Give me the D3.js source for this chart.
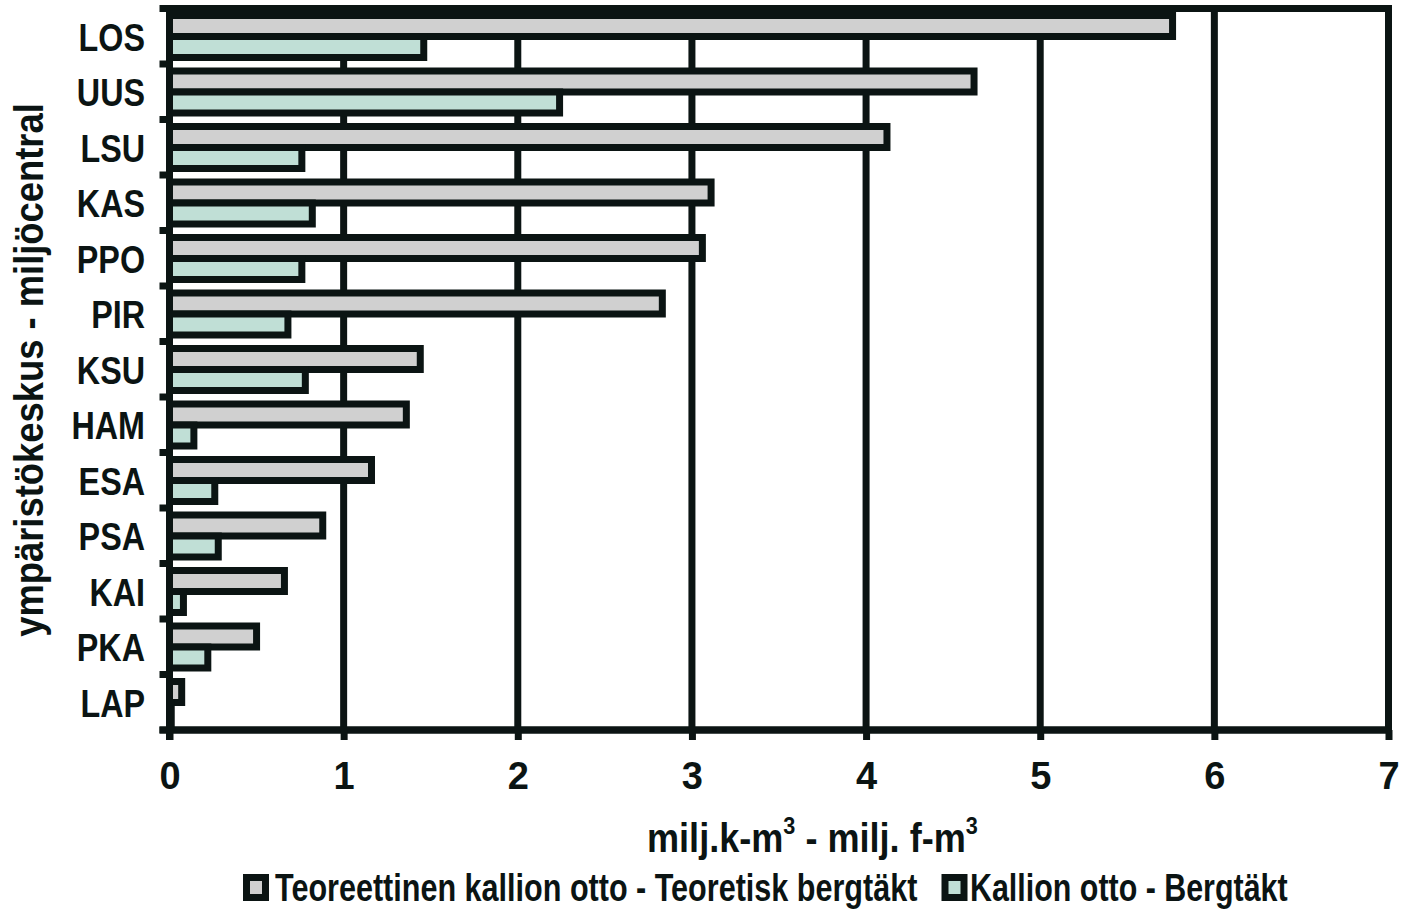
<!DOCTYPE html>
<html><head><meta charset="utf-8">
<script src="https://cdn.jsdelivr.net/npm/d3@7"></script>
<style>html,body{margin:0;padding:0;background:#fff;}svg{display:block;}text{font-family:"Liberation Sans",Arial,sans-serif;font-weight:bold;fill:#0b1413;}</style>
</head><body>
<svg id="c" width="1410" height="909"></svg>
<script>
const categories = ["LOS","UUS","LSU","KAS","PPO","PIR","KSU","HAM","ESA","PSA","KAI","PKA","LAP"];
const theoretical = [5.76,4.62,4.12,3.11,3.06,2.83,1.44,1.36,1.16,0.88,0.66,0.50,0.07];
const actual = [1.46,2.24,0.76,0.82,0.76,0.68,0.78,0.14,0.26,0.28,0.08,0.22,0.01];
const seriesNames = ["Teoreettinen kallion otto - Teoretisk bergtäkt","Kallion otto - Bergtäkt"];
const xTicks = [0,1,2,3,4,5,6,7];
const xTitle = ["milj.k-m","3"," - milj. f-m","3"];
const yTitle = "ympäristökeskus - miljöcentral";

const INK = "#0b1413";
const colors = ["#d0d0d0","#c0dfd6"];
const svg = d3.select("#c");
const L = 169.5, R = 1388.5, T = 8.5, B = 730;

const x = d3.scaleLinear().domain([0,7]).range([L,R]);
const y = d3.scaleBand().domain(categories).range([T,B]);
const ys = d3.scaleBand().domain([0,1]).range([7,49]);

// fit a text horizontally to a target width using a scale transform
function fit(sel, tx, ty, w, rot) {
  const n = sel.node();
  const nat = n.getBBox().width;
  const s = w / nat;
  sel.attr("transform", rot ? `translate(${tx},${ty}) rotate(-90) scale(${s},1)` : `translate(${tx},${ty}) scale(${s},1)`);
}

// gridlines
svg.append("g").selectAll("line").data(xTicks.slice(1,-1)).join("line")
  .attr("x1",d=>x(d)).attr("x2",d=>x(d)).attr("y1",T).attr("y2",B)
  .attr("stroke",INK).attr("stroke-width",7);

// frame
svg.append("rect").attr("x",L).attr("y",T).attr("width",R-L).attr("height",B-T)
  .attr("fill","none").attr("stroke",INK).attr("stroke-width",7);

// bars
const data = [];
categories.forEach((c,i)=>{
  data.push({c, s:0, v:theoretical[i]});
  data.push({c, s:1, v:actual[i]});
});
svg.append("g").selectAll("rect").data(data).join("rect")
  .attr("x",x(0)).attr("y",d=>y(d.c)+ys(d.s))
  .attr("width",d=>x(d.v)-x(0)).attr("height",ys.bandwidth())
  .attr("fill",d=>colors[d.s]).attr("stroke",INK).attr("stroke-width",7);

// axes
const xAxis = d3.axisBottom(x).tickValues(xTicks).tickSize(10).tickPadding(22).tickFormat(d3.format("d"));
const gx = svg.append("g").attr("transform",`translate(0,${B})`).call(xAxis);
gx.select(".domain").attr("stroke",INK).attr("stroke-width",7).attr("d",`M${L-10},0H${R}`);
gx.selectAll(".tick line").attr("stroke",INK).attr("stroke-width",7);
gx.selectAll(".tick text").attr("font-size",38).attr("fill",INK).attr("dy","0.71em")
  .attr("font-family","'Liberation Sans',Arial,sans-serif").attr("font-weight","bold");

const yTickPos = categories.map(c=>y(c)).concat([B]);
svg.append("g").selectAll("line").data(yTickPos).join("line")
  .attr("x1",L-10).attr("x2",L).attr("y1",d=>d).attr("y2",d=>d)
  .attr("stroke",INK).attr("stroke-width",7);
svg.append("line").attr("x1",L).attr("x2",L).attr("y1",T-3.5).attr("y2",B+10)
  .attr("stroke",INK).attr("stroke-width",7);

// category labels
svg.append("g").selectAll("text").data(categories).join("text")
  .attr("transform",d=>`translate(145,${y(d)+y.bandwidth()/2+14.5}) scale(0.85,1)`)
  .attr("text-anchor","end").attr("font-size",38).text(d=>d);

// x title
const xt = svg.append("text").attr("font-size",40);
xt.append("tspan").text(xTitle[0]);
xt.append("tspan").attr("font-size",24).attr("dy",-18).text(xTitle[1]);
xt.append("tspan").attr("dy",18).text(xTitle[2]);
xt.append("tspan").attr("font-size",24).attr("dy",-18).text(xTitle[3]);
fit(xt, 647, 852, 331);

// y title
const yt = svg.append("text").attr("text-anchor","middle").attr("font-size",40).text(yTitle);
fit(yt, 43, 370, 534, true);

// legend
const legendPos = [{sx:246.5, tx:275, tw:643},{sx:945, tx:970, tw:318}];
const lg = svg.append("g").selectAll("g").data(seriesNames).join("g");
lg.append("rect").attr("x",(d,i)=>legendPos[i].sx).attr("y",877.5).attr("width",19).attr("height",20)
  .attr("fill",(d,i)=>colors[i]).attr("stroke",INK).attr("stroke-width",7);
lg.append("text").attr("font-size",38).text(d=>d)
  .each(function(d,i){ fit(d3.select(this), legendPos[i].tx, 901, legendPos[i].tw); });
</script>
</body></html>
